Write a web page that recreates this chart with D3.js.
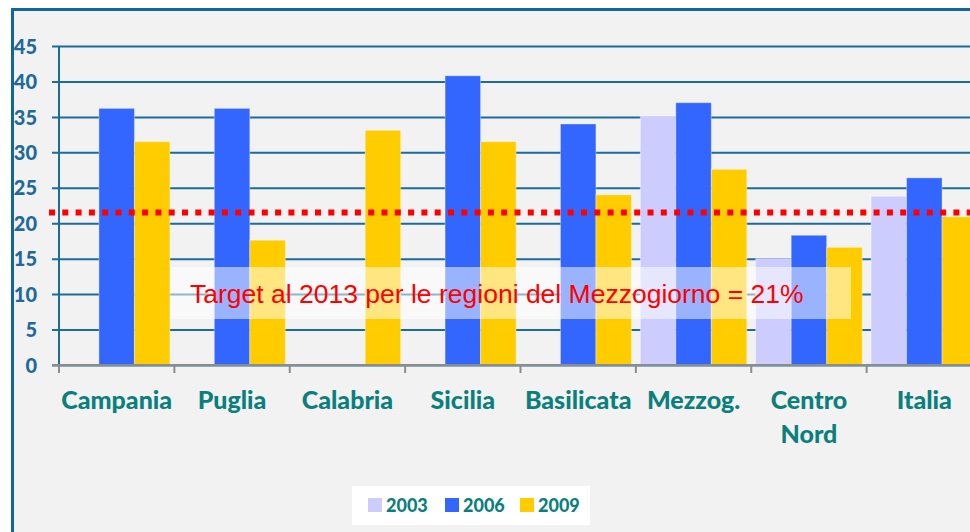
<!DOCTYPE html>
<html>
<head>
<meta charset="utf-8">
<script src="https://cdn.jsdelivr.net/npm/d3@7"></script>
<style>
  html, body { margin: 0; padding: 0; background: #fff; }
  svg { display: block; }
  .ylab text { font-family: Lato, sans-serif; font-weight: 900; font-size: 20px; fill: #1f6a9a; }
  .xlab { font-family: Lato, sans-serif; font-weight: 900; font-size: 25px; fill: #0b7f7c; }
  .leg { font-family: Lato, sans-serif; font-weight: 900; font-size: 18px; fill: #0b7f7c; }
</style>
</head>
<body>
<svg id="chart" width="970" height="532"></svg>
<script>
const CATEGORIES = ["Campania", "Puglia", "Calabria", "Sicilia", "Basilicata", "Mezzog.", "Centro\nNord", "Italia"];
const SERIES = ["2003", "2006", "2009"];
const COLORS = ["#ccccff", "#3366ff", "#ffcc00"];
// null = no bar for that year
const V2003 = [null, null, null, null, null, 35.1, 15.0, 23.8];
const V2006 = [36.2, 36.2, null, 40.8, 34.0, 37.0, 18.3, 26.4];
const V2009 = [31.5, 17.6, 33.1, 31.5, 24.0, 27.6, 16.6, 20.9];
const Y_TICKS = [0, 5, 10, 15, 20, 25, 30, 35, 40, 45];
const TARGET = 21.5;
const TARGET_LABEL = "Target al 2013 per le regioni del Mezzogiorno = 21%";

const W = 970, H = 532;
const svg = d3.select("#chart");

// frame
svg.append("rect").attr("x", 12.5).attr("y", 9.5).attr("width", 1000).attr("height", 600)
  .attr("fill", "#f2f2f2").attr("stroke", "#11669a").attr("stroke-width", 3);

const x = d3.scaleBand().domain(CATEGORIES).range([59, 982]).paddingInner(0).paddingOuter(0);
const xs = d3.scaleBand().domain(SERIES).range([0, x.bandwidth()]).paddingInner(0).paddingOuter(0.125);
const y = d3.scaleLinear().domain([0, 45]).range([365, 46]);

// grid
const grid = svg.append("g").attr("transform", "translate(52,0)")
  .call(d3.axisLeft(y).tickValues(Y_TICKS).tickSize(-(W - 52)).tickFormat(""));
grid.select(".domain").remove();
grid.selectAll("line").attr("stroke", "#1b6b9c").attr("stroke-width", 2);

// y axis line
svg.append("line").attr("x1", 59).attr("x2", 59).attr("y1", y(45)).attr("y2", y(0))
  .attr("stroke", "#1b6b9c").attr("stroke-width", 2);

// y labels
const ylab = svg.append("g").attr("class", "ylab").attr("transform", "translate(59,0)")
  .call(d3.axisLeft(y).tickValues(Y_TICKS).tickSize(0).tickPadding(22));
ylab.select(".domain").remove();
ylab.selectAll("text").attr("dy", "0.36em");

// bars
const rows = CATEGORIES.map((c, i) => ({ cat: c, vals: [V2003[i], V2006[i], V2009[i]] }));
const groups = svg.append("g").selectAll("g").data(rows).join("g")
  .attr("transform", d => `translate(${x(d.cat)},0)`);
groups.selectAll("rect")
  .data(d => d.vals.map((v, k) => ({ s: SERIES[k], v, k })).filter(e => e.v !== null))
  .join("rect")
  .attr("x", e => xs(e.s)).attr("width", xs.bandwidth())
  .attr("y", e => y(e.v)).attr("height", e => y(0) - y(e.v))
  .attr("fill", e => COLORS[e.k])
  .attr("stroke", "rgba(255,255,255,0.35)").attr("stroke-width", 1);

// bottom axis
svg.append("line").attr("x1", 52).attr("x2", W).attr("y1", y(0)).attr("y2", y(0))
  .attr("stroke", "#8c8c8c").attr("stroke-width", 2);
svg.append("g").selectAll("line").data(CATEGORIES).join("line")
  .attr("x1", d => x(d)).attr("x2", d => x(d))
  .attr("y1", y(0)).attr("y2", y(0) + 8)
  .attr("stroke", "#8c8c8c").attr("stroke-width", 2);

// category labels
svg.append("g").selectAll("text").data(CATEGORIES).join("text")
  .attr("class", "xlab").attr("text-anchor", "middle")
  .attr("x", d => x(d) + x.bandwidth() / 2).attr("y", 409)
  .each(function(d) {
    d.split("\n").forEach((part, i) => {
      d3.select(this).append("tspan").attr("x", x(d) + x.bandwidth() / 2)
        .attr("dy", i ? 34 : 0).text(part);
    });
  });

// target line
svg.append("line").attr("x1", 49).attr("x2", W).attr("y1", y(TARGET)).attr("y2", y(TARGET))
  .attr("stroke", "#ff0000").attr("stroke-width", 6).attr("stroke-dasharray", "6,7.3");

// target label box
svg.append("rect").attr("x", 170).attr("y", 267).attr("width", 681).attr("height", 52)
  .attr("fill", "#ffffff").attr("fill-opacity", 0.5);
svg.append("text").attr("x", 190).attr("y", 303)
  .style("font-family", "'Liberation Sans', Arial, sans-serif").style("font-size", "26.5px")
  .attr("fill", "#ff0000").text(TARGET_LABEL);

// legend
svg.append("rect").attr("x", 352).attr("y", 486).attr("width", 238).attr("height", 39).attr("fill", "#fff");
const legX = [368, 445, 520];
const leg = svg.append("g").selectAll("g").data(SERIES).join("g")
  .attr("transform", (d, i) => `translate(${legX[i]},498)`);
leg.append("rect").attr("width", 14).attr("height", 14).attr("fill", (d, i) => COLORS[i]);
leg.append("text").attr("class", "leg").attr("x", 18).attr("y", 14).text(d => d);
</script>
</body>
</html>
